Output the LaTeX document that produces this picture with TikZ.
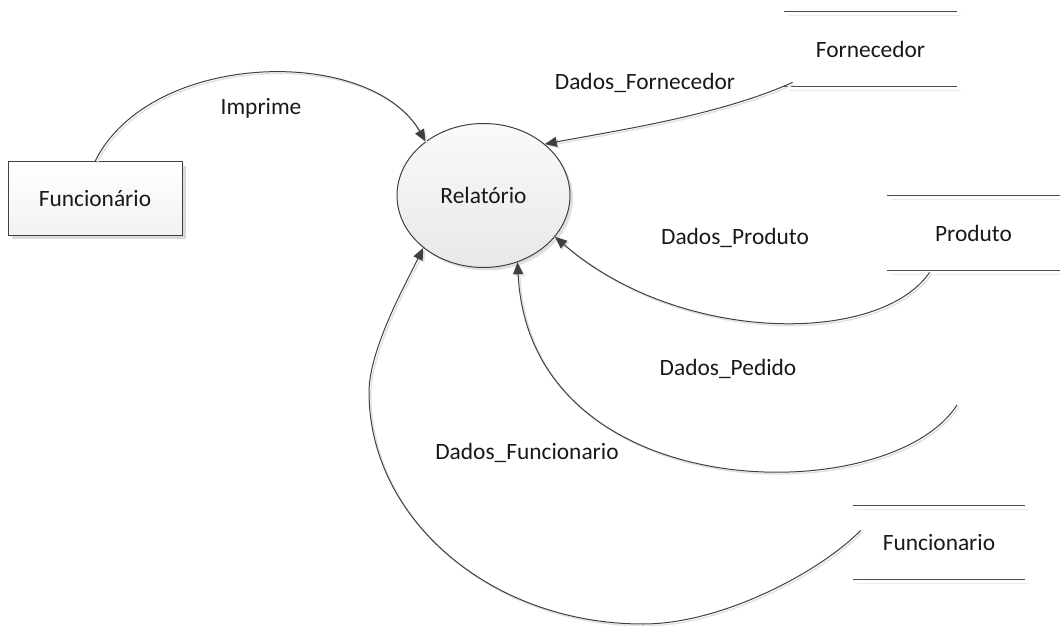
\documentclass[tikz,border=0pt]{standalone}
\usepackage{fontspec}
\setmainfont{Carlito}
\usetikzlibrary{arrows.meta,shapes.geometric,calc,shadows}
\begin{document}
\begin{tikzpicture}[x=0.5pt,y=-0.5pt,
  every node/.style={font=\fontsize{11.7}{14}\selectfont, text=black!90, inner sep=0pt},
  entbox/.style={rectangle, draw=black!75, line width=0.5pt, top color=white, bottom color=black!5,
    minimum width=87pt, minimum height=36.5pt,
    general shadow={fill=black!15, shadow xshift=2pt, shadow yshift=-2pt}},
  procell/.style={ellipse, draw=black!75, line width=0.5pt, top color=black!2, bottom color=black!9,
    minimum width=86.5pt, minimum height=72pt,
    general shadow={fill=black!12, shadow xshift=1.5pt, shadow yshift=-1.5pt}},
  storenode/.style={rectangle, minimum width=86.5pt, minimum height=37pt},
  storeline/.style={draw=black!70, line width=0.5pt},
  storeshadow/.style={draw=black!8, line width=0.8pt},
  flow/.style={draw=black!75, line width=0.5pt, -{Triangle[length=6pt,width=5pt]},
    preaction={draw=black!12, line width=0.7pt, transform canvas={shift={(0.9pt,-0.9pt)}}}},
  lbl/.style={}]
\useasboundingbox (0,0) rectangle (1061,626);

% nodes
\node[entbox] (fun) at (95,198.5) {Funcion\'ario};
\node[procell] (rel) at (483.5,195.5) {Relat\'orio};
\node[storenode] (forn) at (870.5,49) {Fornecedor};
\node[storenode] (prod) at (973.5,233) {Produto};
\node[storenode, minimum width=86pt, minimum height=36.5pt] (func) at (939,542.5) {Funcionario};
\coordinate (ped) at (957,405);

% store lines
\foreach \s in {forn,prod,func}{
  \draw[storeshadow] ($(\s.north west)+(4,4)$) -- ($(\s.north east)+(4,4)$);
  \draw[storeshadow] ($(\s.south west)+(4,4)$) -- ($(\s.south east)+(4,4)$);
  \draw[storeline] (\s.north west) -- (\s.north east);
  \draw[storeline] (\s.south west) -- (\s.south east);
}

% connectors
\draw[flow] (fun.north) .. controls (150,50) and (370,45) .. (rel.137);
\draw[flow] ($(forn.south west)+(9,-4)$) .. controls (720,115) and (620,130) .. (rel.40);
\draw[flow] ($(prod.south west)+(43,2)$) .. controls (880,345) and (680,345) .. (rel.-30);
\draw[flow] (ped) .. controls (890,510) and (530,510) .. (rel.-63);
\draw[flow] ($(func.west)+(8,-12)$) .. controls (821,571) and (723,624) .. (643,624)
   .. controls (492,624) and (369,520) .. (369,392)
   .. controls (369,350) and (405,285) .. (rel.-139);

% labels
\node[lbl] (limp) at (261,108) {Imprime};
\node[lbl] (lforn) at (645,83) {Dados\_Fornecedor};
\node[lbl] (lprod) at (735,238) {Dados\_Produto};
\node[lbl] (lped) at (728,369) {Dados\_Pedido};
\node[lbl] (lfunc) at (527,453) {Dados\_Funcionario};
\end{tikzpicture}
\end{document}
